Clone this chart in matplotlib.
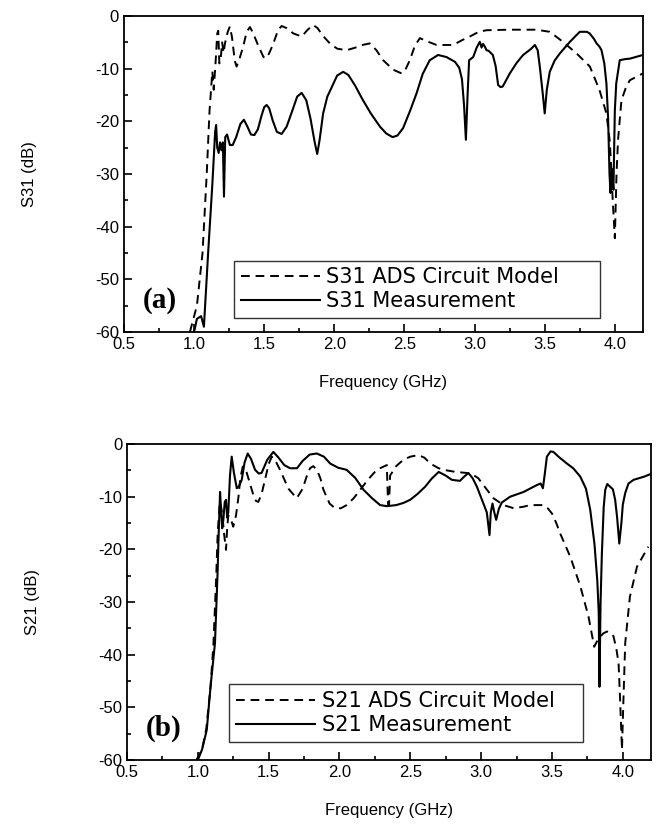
import numpy as np
import matplotlib
matplotlib.use("Agg")
import matplotlib.pyplot as plt
from matplotlib.ticker import MultipleLocator, FormatStrFormatter

plt.rcParams['font.family'] = ['Liberation Sans', 'DejaVu Sans']
plt.rcParams['axes.unicode_minus'] = False

# ---- (a) S31 ----
s31_meas_f = [1.00, 1.02, 1.05, 1.07, 1.10, 1.13, 1.15, 1.157, 1.165, 1.175, 1.185, 1.195,
              1.205, 1.213, 1.222, 1.235, 1.255, 1.275, 1.30, 1.33, 1.355, 1.38, 1.405,
              1.43, 1.455, 1.48, 1.50, 1.517, 1.535, 1.56, 1.59, 1.624, 1.66, 1.70, 1.735,
              1.767, 1.80, 1.83, 1.86, 1.878, 1.895, 1.92, 1.95, 1.98, 2.02, 2.063, 2.10,
              2.15, 2.20, 2.26, 2.325, 2.37, 2.415, 2.45, 2.49, 2.54, 2.586, 2.63, 2.68,
              2.74, 2.80, 2.86, 2.89, 2.91, 2.925, 2.938, 2.95, 2.961, 2.99, 3.015, 3.037,
              3.05, 3.06, 3.073, 3.085, 3.10, 3.13, 3.15, 3.168, 3.185, 3.20, 3.225, 3.251,
              3.30, 3.346, 3.40, 3.43, 3.45, 3.465, 3.485, 3.50, 3.515, 3.536, 3.57, 3.608,
              3.68, 3.72, 3.75, 3.80, 3.82, 3.85, 3.87, 3.89, 3.905, 3.925, 3.94, 3.952,
              3.962, 3.969, 3.978, 3.99, 4.00, 4.01, 4.035, 4.07, 4.107, 4.20]
s31_meas_db = [-60, -57.5, -57, -59, -45, -32, -22, -20.7, -25, -26, -24, -25.5,
               -24, -34.3, -23, -22.5, -24.5, -24.5, -23, -20.5, -19.7, -21, -22.5,
               -22.6, -21.5, -19, -17.3, -16.9, -17.5, -19.8, -22, -22.4, -21, -18, -15.3,
               -14.6, -16, -19.5, -24, -26.2, -23.5, -18.5, -15.3, -13.6, -11.3, -10.6, -11.2,
               -13.3, -15.8, -18.5, -21.0, -22.3, -23.0, -22.7, -21.3, -18, -14.7, -11, -8.4,
               -7.4, -7.8, -8.7, -9.8, -12, -17, -23.5, -15, -8.4, -7.8, -6.0, -4.9,
               -6.0, -5.3, -5.8, -6.5, -6.6, -7.4, -9.5, -13.1, -13.5, -13.4, -12.2, -10.9,
               -8.9, -7.4, -6.3, -5.5, -6.5, -9.6, -14.5, -18.5, -14, -10.6, -8.5, -7.1,
               -4.9, -3.8, -3.0, -3.0, -3.3, -4.3, -5.2, -5.8, -6.5, -9, -12.8, -19.4,
               -30, -33.6, -29, -33, -18, -12.8, -8.4, -8.2, -8.1, -7.4]

s31_ads_f = [0.97, 1.02, 1.06, 1.09, 1.11, 1.13, 1.14, 1.155, 1.165, 1.172, 1.18, 1.19,
             1.20, 1.21, 1.22, 1.24, 1.255, 1.27, 1.29, 1.303, 1.325, 1.35, 1.375, 1.398,
             1.42, 1.46, 1.495, 1.517, 1.54, 1.565, 1.60, 1.624, 1.66, 1.707, 1.767, 1.81,
             1.849, 1.88, 1.92, 1.968, 2.02, 2.087, 2.15, 2.20, 2.253, 2.30, 2.348, 2.42,
             2.479, 2.51, 2.538, 2.575, 2.61, 2.66, 2.729, 2.847, 2.91, 2.966, 3.03, 3.085,
             3.251, 3.44, 3.536, 3.63, 3.727, 3.822, 3.89, 3.94, 3.965, 3.985, 4.00, 4.012,
             4.023, 4.047, 4.08, 4.107, 4.20]
s31_ads_db = [-60, -55, -45, -30, -18, -10.5, -14, -8, -3.3, -2.8, -9, -8,
              -5, -7, -5.2, -3, -2.0, -4, -8.5, -9.6, -8, -5.8, -3, -2.1,
              -3.2, -5.8, -7.8, -8.0, -6.8, -5.2, -2.6, -1.9, -2.3, -3.3, -3.9, -2.6,
              -1.7, -2.3, -3.8, -5.2, -6.2, -6.5, -6.0, -5.5, -5.2, -6.5, -8.4, -10.2,
              -10.9, -10, -8.4, -5.6, -4.2, -4.8, -5.5, -5.5, -4.6, -3.9, -3.0, -2.7,
              -2.6, -2.6, -3.0, -4.9, -7.1, -9.6, -14.0, -18.5, -24, -35, -42.2, -30,
              -23.5, -16, -13.5, -12.2, -10.9]

# ---- (b) S21 ----
s21_meas_f = [1.00, 1.03, 1.063, 1.09, 1.121, 1.14, 1.145, 1.157, 1.165, 1.172, 1.18, 1.19,
              1.199, 1.207, 1.215, 1.227, 1.239, 1.255, 1.275, 1.29, 1.31, 1.33, 1.352,
              1.375, 1.404, 1.43, 1.45, 1.49, 1.533, 1.57, 1.61, 1.651, 1.70, 1.74, 1.79,
              1.84, 1.89, 1.934, 1.99, 2.05, 2.11, 2.17, 2.23, 2.287, 2.334, 2.40, 2.45,
              2.499, 2.55, 2.605, 2.65, 2.70, 2.75, 2.793, 2.85, 2.88, 2.91, 2.94, 2.97,
              3.00, 3.016, 3.04, 3.059, 3.068, 3.08, 3.093, 3.106, 3.125, 3.146, 3.205, 3.30,
              3.393, 3.42, 3.436, 3.45, 3.464, 3.49, 3.51, 3.55, 3.605, 3.65, 3.70, 3.74,
              3.77, 3.80, 3.82, 3.83, 3.835, 3.843, 3.852, 3.865, 3.876, 3.89, 3.91, 3.93,
              3.946, 3.96, 3.975, 3.99, 4.00, 4.017, 4.04, 4.076, 4.15, 4.206]
s21_meas_db = [-60, -58, -54.3, -46, -37.8, -24, -18.8, -9.1, -13, -16, -14.4, -11,
               -10.6, -14, -13, -6, -2.4, -5.5, -8.4, -8, -6.8, -3.5, -1.8,
               -2.8, -4.9, -5.6, -5.5, -3, -1.5, -2.6, -4.0, -4.6, -4.6, -3.2, -2.0,
               -1.8, -2.4, -3.7, -4.5, -4.9, -6.4, -8.7, -10.3, -11.6, -11.8, -11.6, -11.2,
               -10.6, -9.5, -8.1, -6.6, -5.3, -6.0, -6.8, -7.0, -6.2, -5.5, -6.5, -8.1,
               -10.2, -11.3, -13, -17.3, -13, -11.3, -13, -14.4, -12.3, -11.1, -10.0, -9.1,
               -7.8, -7.5, -8.4, -5.5, -2.4, -1.4, -1.5, -2.5, -3.7, -4.6, -6.2, -8.5,
               -12.5, -19, -26, -32, -46.1, -30, -21, -12, -8.7, -7.6, -8.1, -8.6,
               -10.6, -14, -18.9, -15, -11.5, -9.3, -7.5, -6.8, -6.2, -5.6]

s21_ads_f = [0.99, 1.03, 1.06, 1.09, 1.11, 1.13, 1.14, 1.155, 1.165, 1.175, 1.185, 1.199,
             1.207, 1.215, 1.23, 1.25, 1.27, 1.287, 1.30, 1.317, 1.34, 1.36, 1.39, 1.41,
             1.427, 1.45, 1.474, 1.50, 1.522, 1.55, 1.58, 1.64, 1.698, 1.74, 1.77, 1.792,
             1.815, 1.84, 1.865, 1.887, 1.93, 1.969, 2.01, 2.05, 2.10, 2.146, 2.20, 2.263,
             2.334, 2.343, 2.35, 2.357, 2.40, 2.451, 2.50, 2.557, 2.60, 2.64, 2.70, 2.734,
             2.82, 2.90, 2.94, 2.98, 3.016, 3.05, 3.087, 3.158, 3.23, 3.30, 3.346, 3.44,
             3.47, 3.50, 3.53, 3.558, 3.629, 3.70, 3.758, 3.798, 3.815, 3.83, 3.86, 3.888,
             3.91, 3.934, 3.955, 3.97, 3.98, 3.994, 4.005, 4.017, 4.05, 4.10, 4.18]
s21_ads_db = [-60, -58, -54, -46, -38, -25, -17, -11, -12, -14, -17, -20.1,
              -16, -13.6, -14, -15.7, -13.5, -10.0, -6.5, -4.3, -5, -6.8, -9.5, -10.8,
              -11.0, -9.5, -6.8, -3.8, -2.4, -3.3, -4.9, -8.5, -10.3, -8.5, -6, -4.6,
              -4.2, -4.9, -6.5, -8.7, -11.3, -12.2, -12.2, -11.6, -10.3, -8.7, -6.8, -4.9,
              -4.0, -11.5, -11.5, -6, -4.2, -3.0, -2.4, -2.1, -2.6, -3.7, -4.6, -4.9,
              -5.3, -5.5, -5.8, -6.5, -7.8, -9.0, -10.3, -11.6, -12.2, -11.9, -11.6, -11.6,
              -12.2, -13.2, -15, -17.0, -21.4, -27, -32.8, -38.5, -37.6, -37.0, -36.0, -35.6,
              -35.8, -36.5, -39, -41.6, -48, -58, -48, -37.8, -29, -23.3, -19.5]

fig = plt.figure(figsize=(6.56, 8.25), dpi=100)
ax1 = fig.add_axes([0.189, 0.5976, 0.791, 0.383])
ax2 = fig.add_axes([0.1936, 0.0788, 0.799, 0.383])

panels = [
    (ax1, s31_ads_f, s31_ads_db, s31_meas_f, s31_meas_db, 'S31', '(a)',
     (0.212, 0.044, 0.705, 0.174)),
    (ax2, s21_ads_f, s21_ads_db, s21_meas_f, s21_meas_db, 'S21', '(b)',
     (0.195, 0.057, 0.675, 0.152)),
]

for ax, fa, da, fm, dm, name, tag, lbox in panels:
    ax.plot(fa, da, color='black', lw=1.4, ls=(0, (4.5, 3)),
            label=name + ' ADS Circuit Model')
    ax.plot(fm, dm, color='black', lw=1.5, label=name + ' Measurement')
    ax.set_xlim(0.5, 4.2)
    ax.set_ylim(-60, 0)
    ax.xaxis.set_major_locator(MultipleLocator(0.5))
    ax.xaxis.set_minor_locator(MultipleLocator(0.25))
    ax.yaxis.set_major_locator(MultipleLocator(10))
    ax.yaxis.set_minor_locator(MultipleLocator(5))
    ax.xaxis.set_major_formatter(FormatStrFormatter('%.1f'))
    ax.tick_params(which='both', direction='in', top=False, right=False,
                   labelsize=12, width=1.2)
    ax.tick_params(which='major', length=6)
    ax.tick_params(which='minor', length=3)
    for sp in ax.spines.values():
        sp.set_linewidth(1.3)
    ax.set_xlabel('Frequency (GHz)', fontsize=12, labelpad=17)
    ax.set_ylabel(name + ' (dB)', fontsize=12, labelpad=42)
    ax.text(0.07, 0.10, tag, transform=ax.transAxes, fontsize=21,
            fontweight='bold', family='Liberation Serif', ha='center', va='center')
    leg = ax.legend(loc='lower left', bbox_to_anchor=lbox, mode='expand',
                    prop={'family': 'DejaVu Sans', 'size': 15},
                    frameon=True, fancybox=False, handlelength=3.8,
                    borderaxespad=0, labelspacing=0.18, handletextpad=0.3,
                    borderpad=0.33)
    leg.get_frame().set_edgecolor('black')
    leg.get_frame().set_linewidth(1.0)

fig.savefig('out.png', dpi=100)
